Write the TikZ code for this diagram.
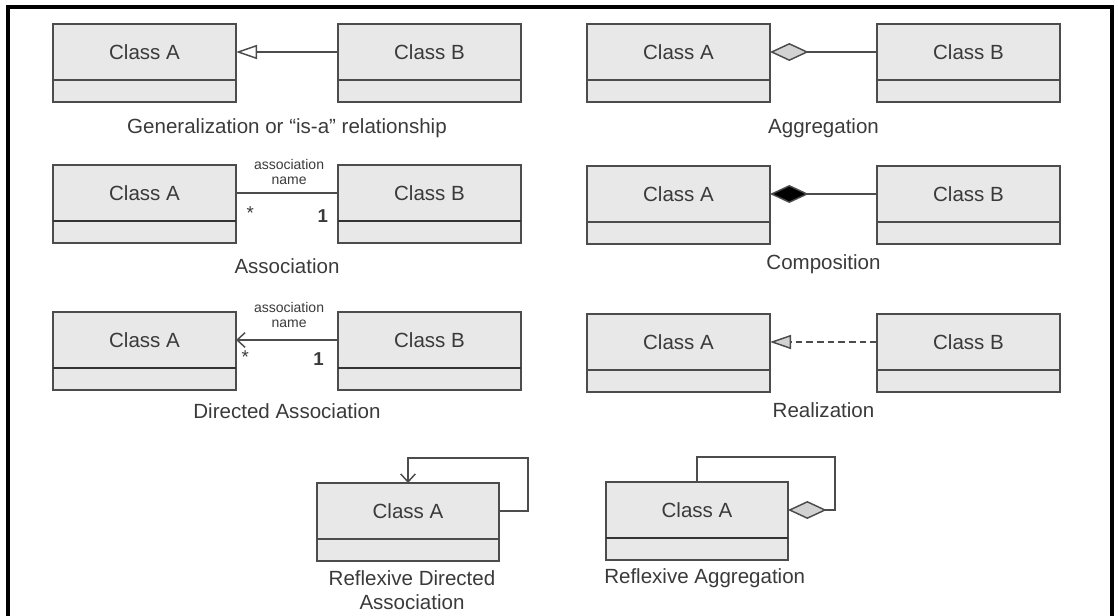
\documentclass[tikz,border=0pt]{standalone}
\usepackage{fontspec}
\setmainfont{Liberation Sans}
\usetikzlibrary{arrows.meta}
\definecolor{boxfill}{HTML}{E8E8E8}
\definecolor{boxline}{HTML}{4C4C4C}
\definecolor{inkgrey}{HTML}{3A3A3A}
\definecolor{diamondgrey}{HTML}{D2D2D2}

\begin{document}
\begin{tikzpicture}[x=0.75pt,y=-0.75pt,
  font=\fontsize{15.4}{18}\selectfont, text=inkgrey,
  classtop/.style={draw=boxline, fill=boxfill, line width=1.5pt,
    minimum width=137.25pt, minimum height=42pt, inner sep=0pt,
    outer sep=0pt, anchor=north},
  classbot/.style={draw=boxline, fill=boxfill, line width=1.5pt,
    minimum width=137.25pt, minimum height=16.5pt, inner sep=0pt,
    outer sep=0pt, anchor=north},
  heavydiv/.style={line width=1.9pt, draw=black!80},
  caption/.style={inner sep=0pt, align=center},
  conn/.style={draw=boxline, line width=1.1pt},
  assoc/.style={inner sep=0pt, align=center, font=\fontsize{10.5}{11.3}\selectfont},
  mult/.style={inner sep=0pt, font=\fontsize{14}{16}\selectfont},
  inherit/.style={-{Triangle[length=15.75pt, width=10.5pt, fill=white, line width=1.1pt]}},
  realize/.style={-{Triangle[length=15.75pt, width=10.5pt, fill=diamondgrey, line width=1.1pt]}},
  aggreg/.style={-{Diamond[length=29pt, width=13.5pt, fill=diamondgrey, line width=1.1pt]}},
  compos/.style={-{Diamond[length=29pt, width=13.5pt, fill=black, line width=1.1pt]}},
  navig/.style={-{Straight Barb[length=6pt, width=11pt, line width=1.1pt]}},
]
\useasboundingbox (0,0) rectangle (1118,616);

% outer frame (open at the bottom)
\draw[line width=3pt, line cap=rect] (8,616) -- (8,7) -- (1112,7) -- (1112,616);

% ---------- Generalization ----------
\node[classtop] (g1a) at (144.5,24) {Class A};
\node[classbot] (g1ax) at (g1a.south) {};
\node[classtop] (g1b) at (429.5,24) {Class B};
\node[classbot] (g1bx) at (g1b.south) {};
\draw[conn, inherit] (g1b.west) -- (g1a.east);
\node[caption] (g1cap) at (287,128) {Generalization or “is-a” relationship};

% ---------- Aggregation ----------
\node[classtop] (ag1a) at (678.5,24) {Class A};
\node[classbot] (ag1ax) at (ag1a.south) {};
\node[classtop] (ag1b) at (968.5,24) {Class B};
\node[classbot] (ag1bx) at (ag1b.south) {};
\draw[conn, aggreg] (ag1b.west) -- (ag1a.east);
\node[caption] (ag1cap) at (823.5,128) {Aggregation};

% ---------- Association ----------
\node[classtop] (as2a) at (144.5,165) {Class A};
\node[classbot] (as2ax) at (as2a.south) {};
\node[classtop] (as2b) at (429.5,165) {Class B};
\node[classbot] (as2bx) at (as2b.south) {};
\draw[heavydiv] (as2ax.north west) -- (as2ax.north east);
\draw[heavydiv] (as2bx.north west) -- (as2bx.north east);
\draw[conn] (as2a.east) --
  node[assoc, pos=.52, anchor=south, yshift=6pt] (as2name) {association\\name}
  node[mult, pos=.14, yshift=-15pt] (as2m1) {*}
  node[mult, pos=.85, yshift=-17pt] (as2m2) {\textbf{1}}
  (as2b.west);
\node[caption] (as2cap) at (287,266) {Association};

% ---------- Composition ----------
\node[classtop] (co2a) at (678.5,166) {Class A};
\node[classbot] (co2ax) at (co2a.south) {};
\node[classtop] (co2b) at (968.5,166) {Class B};
\node[classbot] (co2bx) at (co2b.south) {};
\draw[conn, compos] (co2b.west) -- (co2a.east);
\node[caption] (co2cap) at (823.5,264) {Composition};

% ---------- Directed association ----------
\node[classtop] (da3a) at (144.5,312) {Class A};
\node[classbot] (da3ax) at (da3a.south) {};
\node[classtop] (da3b) at (429.5,312) {Class B};
\node[classbot] (da3bx) at (da3b.south) {};
\draw[heavydiv] (da3ax.north west) -- (da3ax.north east);
\draw[heavydiv] (da3bx.north west) -- (da3bx.north east);
\draw[conn, navig] (da3b.west) --
  node[assoc, pos=.48, anchor=south, yshift=9pt] (da3name) {association\\name}
  node[mult, pos=.91, yshift=-13pt] (da3m1) {*}
  node[mult, pos=.19, yshift=-14pt] (da3m2) {\textbf{1}}
  (da3a.east);
\node[caption] (da3cap) at (287,411) {Directed Association};

% ---------- Realization ----------
\node[classtop] (re3a) at (678.5,314) {Class A};
\node[classbot] (re3ax) at (re3a.south) {};
\node[classtop] (re3b) at (968.5,314) {Class B};
\node[classbot] (re3bx) at (re3b.south) {};
\draw[conn, realize, dash pattern=on 5pt off 3pt] (re3b.west) -- (re3a.east);
\node[caption] (re3cap) at (823.5,410) {Realization};

% ---------- Reflexive directed association ----------
\node[classtop, minimum width=136.5pt] (rd4a) at (408,483) {Class A};
\node[classbot, minimum width=136.5pt] (rd4ax) at (rd4a.south) {};
\coordinate (rd4turn) at (528,458);
\draw[conn, navig] (rd4a.east) -| (rd4turn) -| (rd4a.north);
\node[caption] (rd4cap) at (412,590) {Reflexive Directed\\Association};

% ---------- Reflexive aggregation ----------
\node[classtop, minimum width=136.5pt] (ra4a) at (697,482) {Class A};
\node[classbot, minimum width=136.5pt] (ra4ax) at (ra4a.south) {};
\draw[heavydiv] (ra4ax.north west) -- (ra4ax.north east);
\coordinate (ra4turn) at (835,457);
\draw[conn, aggreg] (ra4a.north) |- (ra4turn) |- (ra4a.east);
\node[caption, anchor=west] (ra4cap) at (604,578) {Reflexive Aggregation};

\end{tikzpicture}
\end{document}
